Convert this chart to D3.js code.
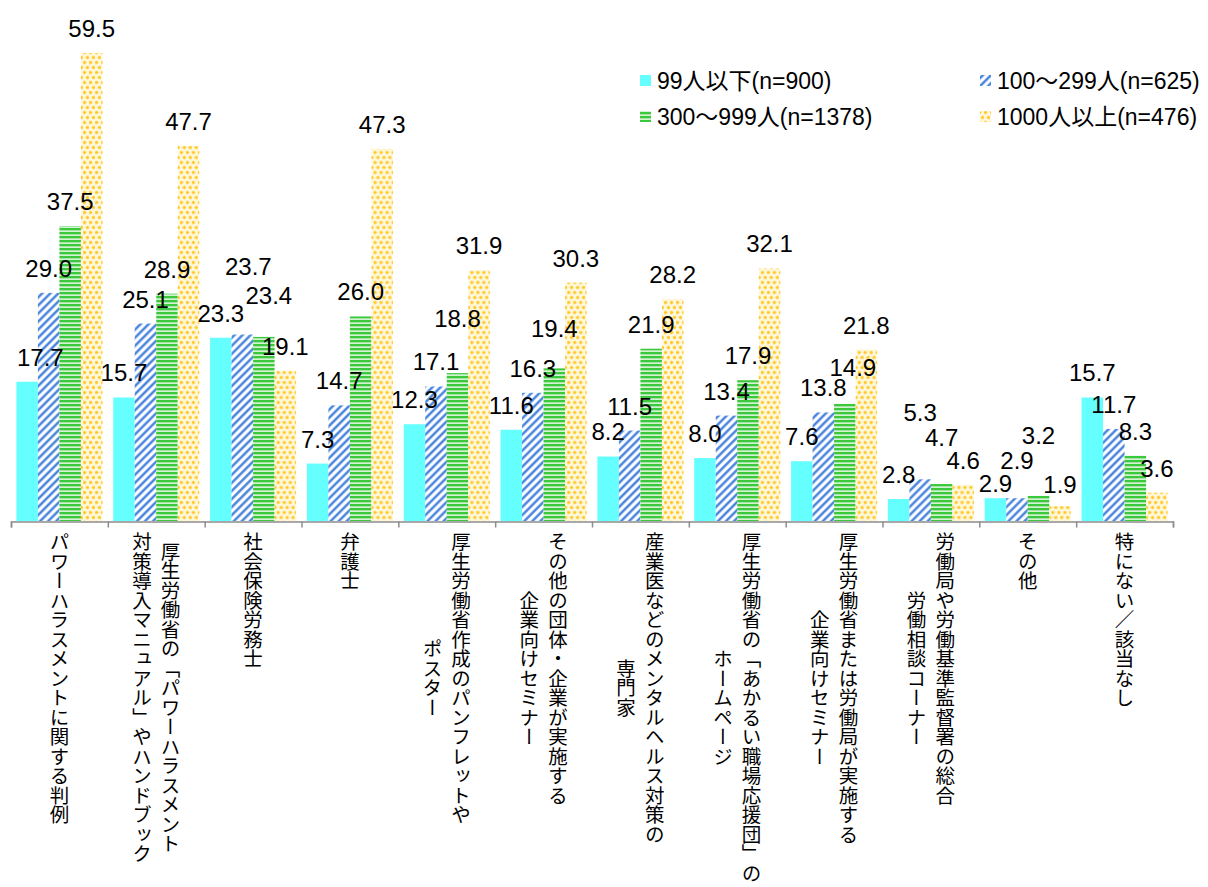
<!DOCTYPE html>
<html>
<head>
<meta charset="utf-8">
<script src="https://cdn.jsdelivr.net/npm/d3@7"></script>
<style>
  body { margin: 0; background: #ffffff; }
  svg { display: block; }
  .num { font-family: "Liberation Sans", Arial, sans-serif; fill: #000; }
  .legend-text { font-family: "Liberation Sans", "Noto Sans CJK JP", sans-serif; fill: #000; }
  .cat { font-family: "Noto Sans CJK JP", sans-serif; fill: #000; writing-mode: vertical-rl; }
</style>
</head>
<body>
<svg id="chart" width="1208" height="887"></svg>
<script>
// Categories (line breaks mark the columns of the vertical labels)
const categories = [
  "パワーハラスメントに関する判例",
  "厚生労働省の「パワーハラスメント\n対策導入マニュアル」やハンドブック",
  "社会保険労務士",
  "弁護士",
  "厚生労働省作成のパンフレットや\nポスター",
  "その他の団体・企業が実施する\n企業向けセミナー",
  "産業医などのメンタルヘルス対策の\n専門家",
  "厚生労働省の「あかるい職場応援団」の\nホームページ",
  "厚生労働省または労働局が実施する\n企業向けセミナー",
  "労働局や労働基準監督署の総合\n労働相談コーナー",
  "その他",
  "特にない／該当なし"
];

// Percentages by company size
const size99 = [17.7, 15.7, 23.3, 7.3, 12.3, 11.6, 8.2, 8.0, 7.6, 2.8, 2.9, 15.7];
const size100to299 = [29.0, 25.1, 23.7, 14.7, 17.1, 16.3, 11.5, 13.4, 13.8, 5.3, 2.9, 11.7];
const size300to999 = [37.5, 28.9, 23.4, 26.0, 18.8, 19.4, 21.9, 17.9, 14.9, 4.7, 3.2, 8.3];
const size1000 = [59.5, 47.7, 19.1, 47.3, 31.9, 30.3, 28.2, 32.1, 21.8, 4.6, 1.9, 3.6];

const seriesNames = ["99人以下(n=900)", "100～299人(n=625)", "300～999人(n=1378)", "1000人以上(n=476)"];
const seriesValues = [size99, size100to299, size300to999, size1000];
const yDomain = [0, 60];

// Hand nudges for value labels that would collide ("category-series": [dx, dy])
const labelNudge = {
  "2-1": [6, -44], "2-2": [5, -17],
  "4-2": [0, -30],
  "5-2": [0, -15],
  "8-2": [8, -12],
  "9-1": [0, -42], "9-2": [0, -22],
  "10-0": [0, 10], "10-1": [0, -13], "10-2": [0, -36], "10-3": [0, 3]
};

const svg = d3.select("#chart");
const defs = svg.append("defs");

// Fill patterns for the four series
// 2: blue upward diagonal stripes
const pDiag = defs.append("pattern")
  .attr("id", "pat-diag").attr("patternUnits", "userSpaceOnUse")
  .attr("width", 5.7).attr("height", 5.7)
  .attr("patternTransform", "rotate(45)");
pDiag.append("rect").attr("width", 5.7).attr("height", 5.7).attr("fill", "#ffffff");
pDiag.append("rect").attr("x", 0).attr("width", 3).attr("height", 5.7).attr("fill", "#9dbff0");
pDiag.append("rect").attr("x", 0.7).attr("width", 1.6).attr("height", 5.7).attr("fill", "#3a78d6");

// 3: green horizontal stripes
const pHor = defs.append("pattern")
  .attr("id", "pat-hor").attr("patternUnits", "userSpaceOnUse")
  .attr("width", 8).attr("height", 4);
pHor.append("rect").attr("width", 8).attr("height", 4).attr("fill", "#d2f3d2");
pHor.append("rect").attr("y", 0).attr("width", 8).attr("height", 2.3).attr("fill", "#3cc83c");

// 4: yellow dots
const pDot = defs.append("pattern")
  .attr("id", "pat-dot").attr("patternUnits", "userSpaceOnUse")
  .attr("width", 6).attr("height", 10);
pDot.append("rect").attr("width", 6).attr("height", 10).attr("fill", "#fff8df");
[[1.5, 2.5], [4.5, 7.5]].forEach(([cx, cy]) => {
  pDot.append("circle").attr("cx", cx).attr("cy", cy).attr("r", 2.1).attr("fill", "#ffe58a");
  pDot.append("circle").attr("cx", cx).attr("cy", cy).attr("r", 1.2).attr("fill", "#ffc31a");
});

const fills = ["#66ffff", "url(#pat-diag)", "url(#pat-hor)", "url(#pat-dot)"];

// Scales
const plotLeft = 11, plotRight = 1173, baseY = 521, topY = 49;
const x = d3.scaleBand().domain(d3.range(categories.length)).range([plotLeft, plotRight]).padding(0);
const xs = d3.scaleBand().domain(d3.range(seriesValues.length)).range([0, x.bandwidth()])
  .paddingInner(0).paddingOuter(0.25);
const y = d3.scaleLinear().domain(yDomain).range([baseY, topY]);

// Bars
const groups = svg.append("g").attr("class", "bars")
  .selectAll("g").data(categories).join("g")
  .attr("transform", (d, i) => `translate(${x(i)},0)`);

groups.selectAll("rect")
  .data((d, i) => seriesValues.map((s, k) => ({ k, v: s[i] })))
  .join("rect")
  .attr("x", d => xs(d.k))
  .attr("width", xs.bandwidth())
  .attr("y", d => y(d.v))
  .attr("height", d => y(0) - y(d.v))
  .attr("fill", d => fills[d.k]);

// Category axis: baseline with ticks at the group boundaries
const xb = d3.scaleLinear().domain([0, categories.length]).range([plotLeft, plotRight]);
const axis = svg.append("g").attr("transform", `translate(0,${baseY + 0.5})`)
  .call(d3.axisBottom(xb).tickValues(d3.range(categories.length + 1))
    .tickFormat("").tickSize(6).tickSizeOuter(6));
axis.select(".domain").attr("stroke", "#8c8c8c").attr("stroke-width", 1.5);
axis.selectAll(".tick line").attr("stroke", "#8c8c8c").attr("stroke-width", 1.5);

// Value labels above each bar
const labelLayer = svg.append("g");
categories.forEach((c, i) => {
  seriesValues.forEach((s, k) => {
    const v = s[i];
    const [dx, dy] = labelNudge[`${i}-${k}`] || [0, 0];
    const cx = x(i) + xs(k) + xs.bandwidth() / 2 + dx;
    const t = labelLayer.append("text")
      .attr("class", "num")
      .attr("font-size", 24)
      .attr("text-anchor", "middle")
      .attr("x", cx)
      .attr("y", y(v) - 16 + dy)
      .text(v.toFixed(1));
    const w = t.node().getComputedTextLength();
    if (cx - w / 2 < 17) t.attr("x", 17 + w / 2);
  });
});

// Vertical category labels
const catFont = 19.5, colGap = 28.6, catTop = 532;
const catLayer = svg.append("g");
categories.forEach((c, i) => {
  const lines = c.split("\n");
  const cx = x(i) + x.bandwidth() / 2;
  const texts = lines.map((line, j) => catLayer.append("text")
    .attr("class", "cat")
    .attr("font-size", catFont)
    .attr("text-anchor", "middle")
    .attr("x", cx + ((lines.length - 1) / 2 - j) * colGap)
    .text(line));
  const maxLen = d3.max(texts, t => t.node().getComputedTextLength());
  texts.forEach(t => t.attr("y", catTop + maxLen / 2));
});

// Legend (two columns, two rows)
const legendPos = [[640, 89], [980, 89], [640, 125], [980, 125]];
const legend = svg.append("g");
seriesNames.forEach((name, k) => {
  const [lx, ly] = legendPos[k];
  legend.append("rect").attr("x", lx).attr("y", ly - 14).attr("width", 11).attr("height", 11)
    .attr("fill", fills[k]);
  legend.append("text").attr("class", "legend-text").attr("font-size", 23)
    .attr("x", lx + 17).attr("y", ly).text(name);
});
</script>
</body>
</html>
